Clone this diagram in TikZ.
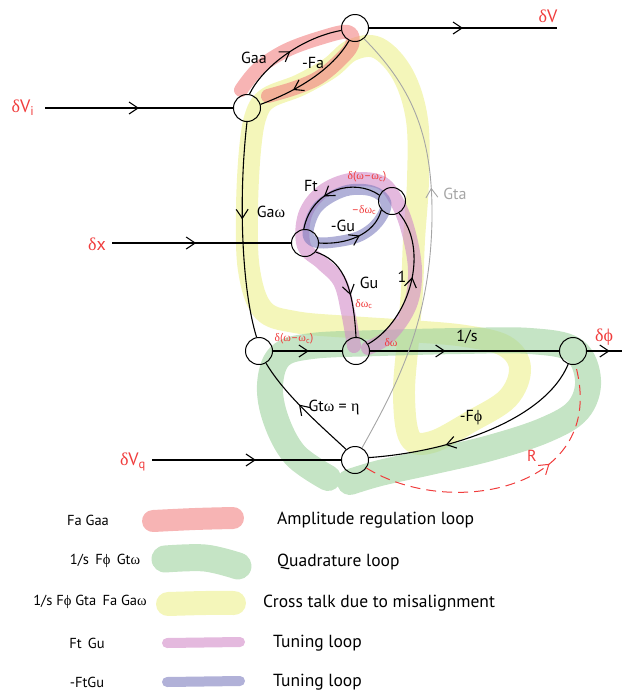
\documentclass[tikz,border=0pt]{standalone}
\usepackage{fontspec}
\setmainfont{PT Sans}
\newfontfamily\gk{Liberation Serif}
\usetikzlibrary{arrows.meta,decorations.markings}
\pgfdeclarelayer{bg}
\pgfsetlayers{bg,main}
\definecolor{lred}{RGB}{240,60,60}
\definecolor{lgray}{RGB}{165,165,165}
\definecolor{hred}{RGB}{242,130,130}
\definecolor{hgreen}{RGB}{158,210,158}
\definecolor{hyellow}{RGB}{236,240,140}
\definecolor{hpink}{RGB}{210,138,200}
\definecolor{hblue}{RGB}{125,125,190}
\newcommand{\mydl}{{\gk δ}}
\newcommand{\myom}{{\gk ω}}
\newcommand{\myph}{{\gk ϕ}}
\newcommand{\myet}{{\gk η}}
\tikzset{
  marr/.style={postaction={decorate},decoration={markings,mark=at position #1 with {\arrow{Straight Barb[length=9pt,width=12pt]}}}},
  sj/.style={circle,draw,line width=1pt,minimum size=27pt,inner sep=0pt},
  wire/.style={line width=1.1pt},
  lbl/.style={inner sep=0pt,font=\fontsize{16}{18}\selectfont},
  big/.style={inner sep=0pt,font=\fontsize{18}{20}\selectfont,text=lred},
  sml/.style={inner sep=0pt,font=\fontsize{11.5}{13}\selectfont,text=lred},
  key/.style={inner sep=0pt,font=\fontsize{14.5}{16}\selectfont},
  leg/.style={inner sep=0pt,font=\fontsize{17.5}{19}\selectfont},
  hl/.style={line cap=round,line join=round,draw opacity=0.6},
}
\begin{document}
\begin{tikzpicture}[x=1pt,y=-1pt]
\useasboundingbox (0,0) rectangle (624,694);
% summing junctions
\node[sj] (A) at (355,28) {};
\node[sj] (B) at (247,108) {};
\node[sj] (C) at (305,243) {};
\node[sj] (D) at (392,201) {};
\node[sj] (E) at (259,351) {};
\node[sj] (F) at (356,351) {};
\node[sj] (G) at (573,351) {};
\node[sj] (H) at (355,460) {};
\coordinate (vi) at (45,108);
\coordinate (vo) at (557,28);
\coordinate (xi) at (112,243);
\coordinate (po) at (622,351);
\coordinate (qi) at (152,460);
\coordinate (tk) at (432,220);

% highlights
\begin{pgfonlayer}{bg}
\draw[hl,hyellow,line width=22pt] plot[smooth cycle,tension=0.6] coordinates {(268,98) (300,85) (330,68) (352,50) (378,48) (403,75) (417,120) (418,180) (414,240) (412,290) (408,340) (404,395) (410,438) (432,442) (470,422) (508,398) (520,368) (505,346) (465,336) (410,331) (350,327) (295,322) (263,310) (249,270) (247,210) (250,150) (256,115)};
\draw[hl,hgreen,line width=26pt] plot[smooth,tension=0.6] coordinates {(328,478) (295,455) (276,420) (270,385) (280,356) (312,346) (380,343) (460,341) (530,341) (574,350) (588,380) (578,410) (545,430) (490,448) (430,462) (380,473) (350,482)};
\draw[hl,hred,line width=14pt] plot[smooth,tension=0.6] coordinates {(241,90) (258,69) (285,51) (320,38) (348,32) (352,45) (338,62) (318,78) (295,88) (268,96)};
\draw[hl,hpink,line width=14pt] plot[smooth,tension=0.6] coordinates {(354,346) (348,312) (340,282) (322,263) (304,246) (305,215) (322,192) (350,180) (380,182) (396,200) (408,230) (415,270) (410,305) (390,335) (368,348)};
\draw[hl,hblue,line width=11pt] plot[smooth cycle,tension=0.6] coordinates {(308,232) (318,207) (345,191) (372,191) (386,203) (378,222) (360,236) (335,242) (315,242)};
% legend strokes
\draw[hl,hred,line width=22pt] plot[smooth,tension=0.6] coordinates {(153,521) (195,519) (233,518)};
\draw[hl,hgreen,line width=27pt] plot[smooth,tension=0.6] coordinates {(165,559) (205,558) (238,566)};
\draw[hl,hyellow,line width=24pt] plot[smooth,tension=0.6] coordinates {(168,604) (205,603) (234,603)};
\draw[hl,hpink,line width=10pt] (167,643) -- (240,642);
\draw[hl,hblue,line width=10pt] (167,682) -- (240,681);
\end{pgfonlayer}

% connectors
\draw[wire,marr=0.5] (vi) -- (B);
\draw[wire,marr=0.5] (A) -- (vo);
\draw[wire,marr=0.52] (B.80) .. controls (262,68) and (300,38) .. (A.190);
\draw[wire,marr=0.68] (A.245) .. controls (335,65) and (305,88) .. (B.15);
\draw[wire,marr=0.45] (B.south) .. controls (238,200) and (242,290) .. (E.100);
\draw[wire,marr=0.47] (xi) -- (C);
\draw[wire,marr=0.6] (D.155) .. controls (355,178) and (312,188) .. (C.95);
\draw[wire,marr=0.55] (C.0) .. controls (345,245) and (375,235) .. (D.220);
\draw[wire,marr=0.58] (C.-40) .. controls (340,260) and (353,280) .. (F.90);
\draw[wire,marr=0.55] (F.30) .. controls (410,320) and (430,250) .. (D.-60);
\draw[wire,marr=0.52] (E) -- (F);
\draw[wire,marr=0.4] (F) -- (G);
\draw[wire,marr=0.65] (G) -- (po);
\draw[wire,marr=0.66] (G.-110) .. controls (545,420) and (450,452) .. (H.10);
\draw[wire,marr=0.55] (H.130) .. controls (320,425) and (285,395) .. (E.-60);
\draw[wire,marr=0.55] (qi) -- (H);
\draw[lgray,line width=0.9pt,marr=0.62] (H.60) .. controls (400,380) and (430,320) .. (tk) .. controls (433,140) and (415,90) .. (A.-50);
\draw[lred,line width=1pt,dash pattern=on 10pt off 6pt,marr=0.64] (H.-35) .. controls (450,520) and (610,490) .. (G.-80);

% labels
\node[lbl] (lGaa) at (254,58) {Gaa};
\node[lbl] (lFa) at (313,63) {-Fa};
\node[big] (lvi) at (23,108) {\mydl V\textsubscript{i}};
\node[big] (lvo) at (548,16) {\mydl V};
\node[lbl] (lGaw) at (271,212) {Ga\myom};
\node[big] (lx) at (97,244) {\mydl x};
\node[lbl] (lFt) at (311,186) {Ft};
\node[sml] (ldw1) at (367,177) {\mydl(\myom–\myom\textsubscript{c})};
\node[sml] (ldwc1) at (364,210) {–\mydl\myom\textsubscript{c}};
\node[lbl] (lGu1) at (343,226) {-Gu};
\node[lbl] (lGu2) at (369,283) {Gu};
\node[sml] (ldwc2) at (364,304) {\mydl\myom\textsubscript{c}};
\node[lbl] (l1) at (402,277) {1};
\node[lbl,text=lgray] (lGta) at (455,194) {Gta};
\node[sml] (ldw2) at (294,339) {\mydl(\myom–\myom\textsubscript{c})};
\node[sml] (ldw3) at (391,343) {\mydl\myom};
\node[lbl] (ls) at (467,337) {1/s};
\node[big] (lph) at (604,337) {\mydl\myph};
\node[lbl] (lGtw) at (334,408) {Gt\myom\ = \myet};
\node[lbl] (lFph) at (471,418) {-F\myph};
\node[big] (lvq) at (133,462) {\mydl V\textsubscript{q}};
\node[lbl,text=lred] (lR) at (532,456) {R};

% legend texts
\node[key] (k1) at (88,520) {Fa Gaa};
\node[key] (k2) at (105,561) {1/s\, F\myph\, Gt\myom};
\node[key] (k3) at (90,602) {1/s F\myph\ Gta\, Fa Ga\myom};
\node[key] (k4) at (87,643) {Ft\, Gu};
\node[key] (k5) at (87,682) {-FtGu};
\node[leg,anchor=west] (t1) at (277,520) {Amplitude regulation loop};
\node[leg,anchor=west] (t2) at (277,562) {Quadrature loop};
\node[leg,anchor=west] (t3) at (263,603) {Cross talk due to misalignment};
\node[leg,anchor=west] (t4) at (273,643) {Tuning loop};
\node[leg,anchor=west] (t5) at (273,682) {Tuning loop};
\end{tikzpicture}
\end{document}
